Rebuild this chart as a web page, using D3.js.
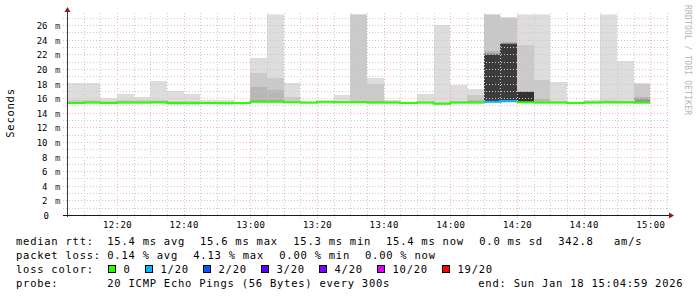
<!DOCTYPE html>
<html><head><meta charset="utf-8">
<script src="https://cdn.jsdelivr.net/npm/d3@7"></script>
<style>
html,body{margin:0;padding:0;background:#fff;}
svg{display:block;}
text{font-family:"DejaVu Sans Mono",monospace;}
</style></head><body>
<svg id="chart" width="697" height="297"></svg>
<script>
// ---------- DATA ----------
const startTime = "2026-01-18T12:05:00";
const endTime = "2026-01-18T15:05:00";
const stepMinutes = 5;
const pingsPerStep = 20;
// median rtt per 5 min step (ms)
const medians = [15.35,15.4,15.35,15.4,15.4,15.45,15.35,15.35,15.35,15.35,15.35,15.5,15.5,15.45,15.4,15.5,15.45,15.45,15.4,15.4,15.35,15.4,15.25,15.4,15.4,15.5,15.6,15.45,15.4,15.4,15.35,15.4,15.45,15.45,15.4];
// lost pings per step
const lossCount = [0,0,0,0,0,0,0,0,0,0,0,0,0,0,0,0,0,0,0,0,0,0,0,0,0,1,1,0,0,0,0,0,0,0,0];
// upper bounds of the smoke layers (outer -> inner), ms
const smokeTops = [
  [18.05,15.75],[18.05,15.75],[16.0,15.6],[16.55,15.7],[16.1,15.7],[18.35,15.75],[17.0,15.6],[16.55,15.6],
  [15.75],[15.75],[15.5],[21.55,19.45,17.5,15.75],[28,18.8,17.1,15.75],[18.1,16.15],[15.5],[15.6],
  [16.45,15.6],[28,28,15.6],[18.8,18.0,15.6],[15.7,15.65],[15.45],[16.55,15.5],[26.0,15.5],[17.8,15.6],
  [17.25,16.45,15.7],[28,28,22.4,22.25,22.1,22.0,21.95,21.9,21.9],[27.1,27.05,23.7,23.6,23.5,23.45,23.4,23.4,23.4],
  [28,23.3,17.0,16.95,16.9,16.9,16.9,16.9,16.9,16.9],[28,18.55,15.9],[18.2,15.6],[15.45],[15.75,15.6],
  [28,15.75],[21.1,15.6],[18.05,18.0,16.1,16.05,15.8]
];
// lowest ping per step, ms
const smokeBottoms = [15.25,15.25,15.25,15.25,15.25,15.25,15.1,15.1,15.25,15.1,15.25,15.3,15.3,15.3,15.25,15.15,15.3,15.3,15.25,15.25,15.25,15.25,15.1,15.25,15.25,15.3,15.4,15.3,15.25,15.25,15.25,15.25,15.25,15.25,15.25];
const yTicks = [0,2,4,6,8,10,12,14,16,18,20,22,24,26];
const xTickLabels = ["12:20","12:40","13:00","13:20","13:40","14:00","14:20","14:40","15:00"];
const lossThresholds = [0,1,2,3,4,10,19];
const lossLabels = ["0","1/20","2/20","3/20","4/20","10/20","19/20"];
const lossColors = ["#26ff00","#00b8ff","#0059ff","#5e00ff","#7e00ff","#dd00ff","#ff0000"];
const rttLabel = "median rtt:";
const rttStats = ["15.4 ms avg","15.6 ms max","15.3 ms min","15.4 ms now","0.0 ms sd","342.8","am/s"];
const lossLabel = "packet loss:";
const lossStats = ["0.14 % avg","4.13 % max","0.00 % min","0.00 % now"];
const colorLabel = "loss color:";
const probeLabel = "probe:";
const probeText = "20 ICMP Echo Pings (56 Bytes) every 300s";
const endText = "end: Sun Jan 18 15:04:59 2026";
const yAxisTitle = "Seconds";
const watermark = "RRDTOOL / TOBI OETIKER";

// ---------- CHART ----------
const svg = d3.select("#chart");
const t0 = new Date(startTime), t1 = new Date(endTime);
const stepMs = stepMinutes*60000;
const x = d3.scaleTime().domain([t0,t1]).range([67,667]);
const y = d3.scaleLinear().domain([0,27.45]).range([215,14.6]);

svg.append("defs").append("clipPath").attr("id","clip")
  .append("rect").attr("x",67).attr("y",y(27.45)).attr("width",600).attr("height",215-y(27.45));

const plot = svg.append("g").attr("clip-path","url(#clip)");
medians.forEach((m,i)=>{
  const a = new Date(+t0+i*stepMs), b = new Date(+t0+(i+1)*stepMs);
  const n = pingsPerStep - lossCount[i];
  const half = n/2;
  smokeTops[i].forEach((top,k)=>{
    const lo = k===0 ? smokeBottoms[i] : m;
    const g = Math.floor(190/half*(half-(k+1)))+50;
    plot.append("rect")
      .attr("x",Math.round(x(a))).attr("width",Math.round(x(b))-Math.round(x(a)))
      .attr("y",y(Math.min(top,30))).attr("height",Math.max(0,y(lo)-y(Math.min(top,30))))
      .attr("fill",d3.rgb(g,g,g)).attr("shape-rendering","crispEdges");
  });
});

// grid
const grid = svg.append("g");
const minorY = d3.range(1,28);
grid.selectAll(".hmin").data(minorY.filter(v=>v%2)).enter().append("line")
  .attr("x1",63).attr("x2",668).attr("y1",d=>Math.round(y(d))+0.5).attr("y2",d=>Math.round(y(d))+0.5)
  .attr("stroke","#cccccc").attr("stroke-dasharray","1,2");
grid.selectAll(".hmaj").data(yTicks.filter(v=>v>0)).enter().append("line")
  .attr("x1",63).attr("x2",668).attr("y1",d=>Math.round(y(d))+0.5).attr("y2",d=>Math.round(y(d))+0.5)
  .attr("stroke","#f2b4b4").attr("stroke-dasharray","1,2");
const vTimes = d3.timeMinute.every(5).range(new Date(+t0+1), new Date(+t1+1));
grid.selectAll(".v").data(vTimes).enter().append("line")
  .attr("x1",d=>Math.round(x(d))+0.5).attr("x2",d=>Math.round(x(d))+0.5)
  .attr("y1",13).attr("y2",218)
  .attr("stroke",d=>d.getMinutes()%20===0?"#f2b4b4":"#cccccc").attr("stroke-dasharray","1,2");

// median line, split by loss colour
function lossColor(c){let idx=0;lossThresholds.forEach((t,j)=>{if(c>=t)idx=j;});return lossColors[idx];}
const line = d3.line().x(d=>x(d[0])).y(d=>y(d[1])).curve(d3.curveStepAfter);
let runStart = 0;
for(let i=1;i<=medians.length;i++){
  if(i===medians.length || lossColor(lossCount[i])!==lossColor(lossCount[runStart])){
    const pts = [];
    for(let j=runStart;j<i;j++) pts.push([new Date(+t0+j*stepMs),medians[j]]);
    pts.push([new Date(+t0+i*stepMs),medians[i-1]]);
    svg.append("path").attr("d",line(pts)).attr("fill","none")
      .attr("stroke",lossColor(lossCount[runStart])).attr("stroke-width",2);
    runStart = i;
  }
}

// axes
svg.append("line").attr("x1",67.5).attr("x2",67.5).attr("y1",217).attr("y2",10).attr("stroke","#3a3a3a");
svg.append("line").attr("x1",63).attr("x2",670).attr("y1",215.5).attr("y2",215.5).attr("stroke","#1a1a1a");
svg.append("path").attr("d","M64.5,12L67.5,7L70.5,12Z").attr("fill","#8b1c1c");
svg.append("path").attr("d","M669,212.5L674,215.5L669,218.5Z").attr("fill","#8b1c1c");

// y tick labels
const yl = svg.append("g").attr("font-size","9px").attr("fill","#000");
yTicks.forEach(v=>{
  const ty = Math.round(y(v))+3.5;
  yl.append("text").attr("x",v===0?49:47.5).attr("y",ty).attr("text-anchor","end").text(v===0?"0":String(v));
  if(v!==0) yl.append("text").attr("x",55).attr("y",ty).text("m").attr("fill","#333");
});
// x tick labels
const xl = svg.append("g").attr("font-size","9px").attr("letter-spacing","0.4px");
xTickLabels.forEach(lbl=>{
  const [hh,mm] = lbl.split(":").map(Number);
  const d = new Date(t0); d.setHours(hh,mm,0,0);
  xl.append("text").attr("x",x(d)+0.5).attr("y",227.5).attr("text-anchor","middle").text(lbl);
});

// axis title and watermark
svg.append("text").attr("transform","translate(14,113) rotate(-90)").attr("text-anchor","middle")
  .attr("font-size","10.5px").attr("letter-spacing","0.75px").text(yAxisTitle);
svg.append("text").attr("transform","translate(685,5) rotate(90)")
  .attr("font-size","8px").attr("letter-spacing","0.2px").attr("fill","#b4b4b4").text(watermark);

// legend
const lg = svg.append("g").attr("font-size","10.5px").attr("letter-spacing","0.75px").attr("fill","#000");
const put=(tx,ty,s)=>lg.append("text").attr("x",tx).attr("y",ty).attr("xml:space","preserve").text(s);
put(16,245,rttLabel);
[107.3,200,293.3,386,479.3,558.3,614].forEach((px,i)=>put(px,245,rttStats[i]));
put(16,259,lossLabel);
[107.3,193.3,279.3,365].forEach((px,i)=>put(px,259,lossStats[i]));
put(16,273,colorLabel);
[108.5,145.5,203.5,261.5,319.5,377.5,442.5].forEach((px,i)=>{
  lg.append("rect").attr("x",px).attr("y",265.5).attr("width",7).attr("height",7)
    .attr("fill",lossColors[i]).attr("stroke","#000").attr("stroke-width",1);
  put(px+15,273,lossLabels[i]);
});
put(16,287,probeLabel);
put(107.3,287,probeText);
put(478.3,287,endText);
</script>
</body></html>
